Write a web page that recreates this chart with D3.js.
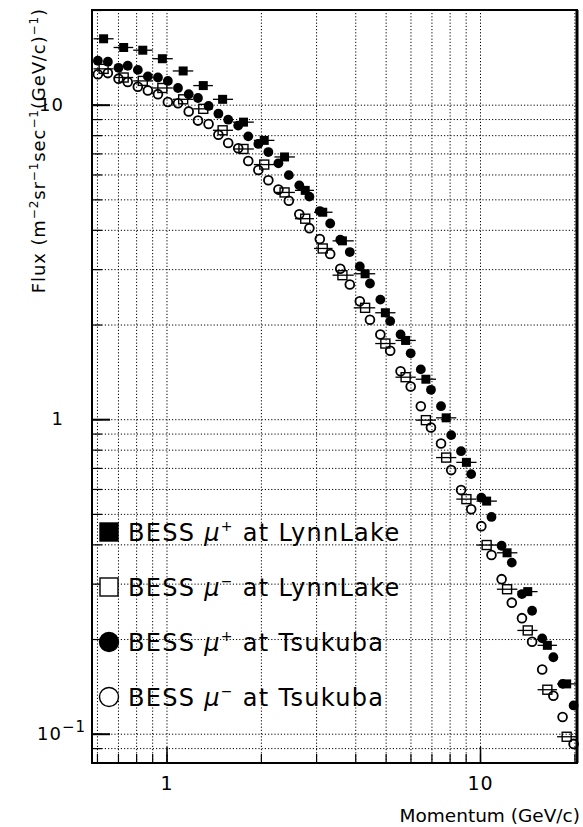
<!DOCTYPE html>
<html>
<head>
<meta charset="utf-8">
<title>BESS muon flux</title>
<script src="https://d3js.org/d3.v7.min.js"></script>
<style>
  body { margin: 0; background: #fff; overflow: hidden; }
  svg text { font-family: "DejaVu Sans", sans-serif; fill: #000; }
</style>
</head>
<body>
<svg width="583" height="827"></svg>
<script>
// LynnLake bins (GeV/c)
const llMomentum = [0.63, 0.73, 0.84, 0.97, 1.13, 1.31, 1.51, 1.76, 2.05, 2.38, 2.77, 3.15,
  3.64, 4.30, 4.99, 5.79, 6.72, 7.80, 9.05, 10.5, 12.2, 14.2, 16.4, 18.9];
const llBinEdges = [0.585, 0.678, 0.783, 0.903, 1.047, 1.217, 1.406, 1.630, 1.899, 2.209, 2.568,
  2.954, 3.386, 3.956, 4.632, 5.375, 6.238, 7.240, 8.402, 9.748, 11.32, 13.16, 15.26, 17.61, 20.28];
const llMuPlus = [16.2, 15.2, 14.9, 14.0, 12.8, 11.5, 10.4, 8.80, 7.70, 6.82, 5.34, 4.55,
  3.69, 2.90, 2.18, 1.78, 1.34, 1.01, 0.729, 0.549, 0.376, 0.283, 0.191, 0.144];
const llMuMinus = [13.0, 12.2, 11.9, 11.3, 10.4, 9.70, 8.29, 7.23, 6.45, 5.26, 4.34, 3.49,
  2.87, 2.26, 1.74, 1.36, 0.993, 0.755, 0.557, 0.398, 0.288, 0.213, 0.138, 0.0978];

// Tsukuba bins (GeV/c)
const tsMomentum = [0.604, 0.650, 0.703, 0.752, 0.810, 0.872, 0.939, 1.010, 1.088, 1.177, 1.260, 1.362,
  1.464, 1.573, 1.693, 1.823, 1.963, 2.113, 2.275, 2.456, 2.652, 2.856, 3.083, 3.327,
  3.583, 3.843, 4.136, 4.456, 4.810, 5.170, 5.579, 6.010, 6.474, 6.975, 7.510, 8.092,
  8.700, 9.372, 10.10, 10.88, 11.72, 12.63, 13.61, 14.66, 15.79, 17.14, 18.34, 19.89];
const tsMuPlus = [13.8, 13.7, 13.1, 13.3, 12.9, 12.3, 12.2, 11.9, 11.3, 10.8, 10.5, 9.91,
  9.36, 8.96, 8.58, 7.93, 7.50, 7.07, 6.51, 5.97, 5.54, 5.10, 4.59, 4.19,
  3.72, 3.40, 3.06, 2.70, 2.40, 2.05, 1.86, 1.62, 1.44, 1.24, 1.10, 0.890,
  0.791, 0.669, 0.563, 0.489, 0.396, 0.350, 0.278, 0.246, 0.201, 0.175, 0.144, 0.123];
const tsMuMinus = [12.5, 12.6, 12.1, 11.8, 11.4, 11.1, 10.8, 10.2, 10.1, 9.52, 8.90, 8.68,
  8.02, 7.55, 7.27, 6.62, 6.20, 5.75, 5.37, 4.95, 4.48, 4.05, 3.74, 3.35,
  3.01, 2.68, 2.37, 2.07, 1.86, 1.65, 1.42, 1.27, 1.10, 0.941, 0.837, 0.689,
  0.595, 0.517, 0.457, 0.370, 0.310, 0.261, 0.233, 0.196, 0.160, 0.132, 0.113, 0.0928];

// ticks / grid
const xGrid = [0.6, 0.7, 0.8, 0.9, 1, 2, 3, 4, 5, 6, 7, 8, 9, 10, 20];
const xMajor = [1, 10];
const yGrid = [0.09, 0.1, 0.2, 0.3, 0.4, 0.5, 0.6, 0.7, 0.8, 0.9, 1, 2, 3, 4, 5, 6, 7, 8, 9, 10, 20];
const yMajor = [0.1, 1, 10];

const legendLabels = [
  { sign: "+", site: "LynnLake", shape: "square", filled: true },
  { sign: "\u2212", site: "LynnLake", shape: "square", filled: false },
  { sign: "+", site: "Tsukuba", shape: "circle", filled: true },
  { sign: "\u2212", site: "Tsukuba", shape: "circle", filled: false }
];

const svg = d3.select("svg");
const mLeft = 92, mRight = 577, mTop = 10, mBottom = 763;

const x = d3.scaleLog().domain([0.5785, 20.39]).range([mLeft, mRight]);
const y = d3.scaleLog().domain([0.0807, 20]).range([mBottom, mTop]);

// dotted grid
svg.append("g")
  .attr("transform", `translate(0,${mBottom})`)
  .call(d3.axisBottom(x).tickValues(xGrid).tickSize(-(mBottom - mTop)).tickFormat(""))
  .call(g => g.select(".domain").remove())
  .selectAll("line")
  .attr("stroke", "#000").attr("stroke-width", 1).attr("stroke-dasharray", "1.2,2");

svg.append("g")
  .attr("transform", `translate(${mLeft},0)`)
  .call(d3.axisLeft(y).tickValues(yGrid).tickSize(-(mRight - mLeft)).tickFormat(""))
  .call(g => g.select(".domain").remove())
  .selectAll("line")
  .attr("stroke", "#000").attr("stroke-width", 1).attr("stroke-dasharray", "1.2,2");

// ticks (inside the frame)
svg.append("g")
  .attr("transform", `translate(0,${mBottom})`)
  .call(d3.axisBottom(x).tickValues(xGrid).tickSize(-9).tickFormat(""))
  .call(g => g.select(".domain").remove())
  .selectAll("line").attr("stroke", "#000").attr("stroke-width", 1.2);
svg.append("g")
  .attr("transform", `translate(0,${mBottom})`)
  .call(d3.axisBottom(x).tickValues(xMajor).tickSize(-16).tickFormat(""))
  .call(g => g.select(".domain").remove())
  .selectAll("line").attr("stroke", "#000").attr("stroke-width", 1.5);

svg.append("g")
  .attr("transform", `translate(${mLeft},0)`)
  .call(d3.axisLeft(y).tickValues(yGrid).tickSize(-10).tickFormat(""))
  .call(g => g.select(".domain").remove())
  .selectAll("line").attr("stroke", "#000").attr("stroke-width", 1.2);
svg.append("g")
  .attr("transform", `translate(${mLeft},0)`)
  .call(d3.axisLeft(y).tickValues(yMajor).tickSize(-18).tickFormat(""))
  .call(g => g.select(".domain").remove())
  .selectAll("line").attr("stroke", "#000").attr("stroke-width", 2);

// tick labels
svg.append("g")
  .attr("transform", `translate(0,${mBottom})`)
  .call(d3.axisBottom(x).tickValues(xMajor).tickSize(0).tickPadding(14).tickFormat(d3.format("d")))
  .call(g => g.select(".domain").remove())
  .selectAll("text").attr("font-size", 19).attr("font-family", "DejaVu Sans").attr("letter-spacing", 1);

const yLab = svg.append("g")
  .attr("transform", `translate(${mLeft},0)`)
  .call(d3.axisLeft(y).tickValues(yMajor).tickSize(0).tickPadding(28).tickFormat(d => d >= 1 ? d3.format("d")(d) : "10"))
  .call(g => g.select(".domain").remove());
yLab.selectAll("text").attr("font-size", 18).attr("font-family", "DejaVu Sans").attr("letter-spacing", 1);
yLab.selectAll("text").filter(d => d < 1)
  .attr("x", -6)
  .append("tspan").attr("font-size", 15).attr("dy", "-0.55em").text("\u22121");

// frame
svg.append("rect")
  .attr("x", mLeft).attr("y", mTop)
  .attr("width", mRight - mLeft).attr("height", mBottom - mTop)
  .attr("fill", "none").attr("stroke", "#000").attr("stroke-width", 2);
svg.append("line")
  .attr("x1", mRight).attr("x2", mRight).attr("y1", mTop).attr("y2", mBottom)
  .attr("stroke", "#000").attr("stroke-width", 3);

// axis titles
svg.append("text")
  .attr("x", 580).attr("y", 822)
  .attr("text-anchor", "end")
  .attr("font-size", 18.5)
  .text("Momentum (GeV/c)");

const yt = svg.append("text")
  .attr("transform", "translate(45,8) rotate(-90)")
  .attr("text-anchor", "end")
  .attr("font-size", 18)
  .attr("letter-spacing", 0.9);
[["Flux (m", null], ["\u22122", "sup"], ["sr", null], ["\u22121", "sup"], ["sec", null],
 ["\u22121", "sup"], ["(GeV/c)", null], ["\u22121", "sup"], [")", null]].forEach(([t, k]) => {
  yt.append("tspan")
    .attr("font-size", k ? 12 : 18)
    .attr("dy", k ? -7 : (t === "Flux (m" ? 0 : 7))
    .text(t);
});

// data
const plot = svg.append("g");

// LynnLake horizontal bin bars
const bars = plot.append("g").attr("stroke", "#000").attr("stroke-width", 1.3);
[llMuPlus, llMuMinus].forEach(series => {
  bars.selectAll(null)
    .data(series.map((f, i) => ({ lo: llBinEdges[i], hi: llBinEdges[i + 1], f })))
    .enter().append("line")
    .attr("x1", d => x(d.lo)).attr("x2", d => x(d.hi))
    .attr("y1", d => y(d.f)).attr("y2", d => y(d.f));
});

const sq = 9;
plot.append("g").selectAll("rect")
  .data(llMomentum.map((p, i) => ({ p, f: llMuMinus[i] })))
  .enter().append("rect")
  .attr("x", d => x(d.p) - sq / 2).attr("y", d => y(d.f) - sq / 2)
  .attr("width", sq).attr("height", sq)
  .attr("fill", "none").attr("stroke", "#000").attr("stroke-width", 1.4);

plot.append("g").selectAll("circle")
  .data(tsMomentum.map((p, i) => ({ p, f: tsMuMinus[i] })))
  .enter().append("circle")
  .attr("cx", d => x(d.p)).attr("cy", d => y(d.f)).attr("r", 4.4)
  .attr("fill", "none").attr("stroke", "#000").attr("stroke-width", 1.8);

plot.append("g").selectAll("circle")
  .data(tsMomentum.map((p, i) => ({ p, f: tsMuPlus[i] })))
  .enter().append("circle")
  .attr("cx", d => x(d.p)).attr("cy", d => y(d.f)).attr("r", 4.9)
  .attr("fill", "#000");

plot.append("g").selectAll("rect")
  .data(llMomentum.map((p, i) => ({ p, f: llMuPlus[i] })))
  .enter().append("rect")
  .attr("x", d => x(d.p) - sq / 2).attr("y", d => y(d.f) - sq / 2)
  .attr("width", sq).attr("height", sq)
  .attr("fill", "#000");

// legend
const legend = svg.append("g");
legendLabels.forEach((d, i) => {
  const cy = 532 + i * 55;
  if (d.shape === "square") {
    legend.append("rect")
      .attr("x", 100).attr("y", cy - 9).attr("width", 18).attr("height", 18)
      .attr("fill", d.filled ? "#000" : "#fff").attr("stroke", "#000").attr("stroke-width", 1.4);
  } else {
    legend.append("circle")
      .attr("cx", 109).attr("cy", cy).attr("r", 9.5)
      .attr("fill", d.filled ? "#000" : "#fff").attr("stroke", "#000").attr("stroke-width", 1.4);
  }
  const t = legend.append("text")
    .attr("x", 128).attr("y", cy + 9)
    .attr("font-size", 24)
    .attr("letter-spacing", 1.3);
  t.append("tspan").text("BESS ");
  t.append("tspan").attr("font-style", "italic").text("\u03bc");
  t.append("tspan").attr("font-size", 14).attr("dy", -10).text(d.sign);
  t.append("tspan").attr("dy", 10).text(" at " + d.site);
});
</script>
</body>
</html>
